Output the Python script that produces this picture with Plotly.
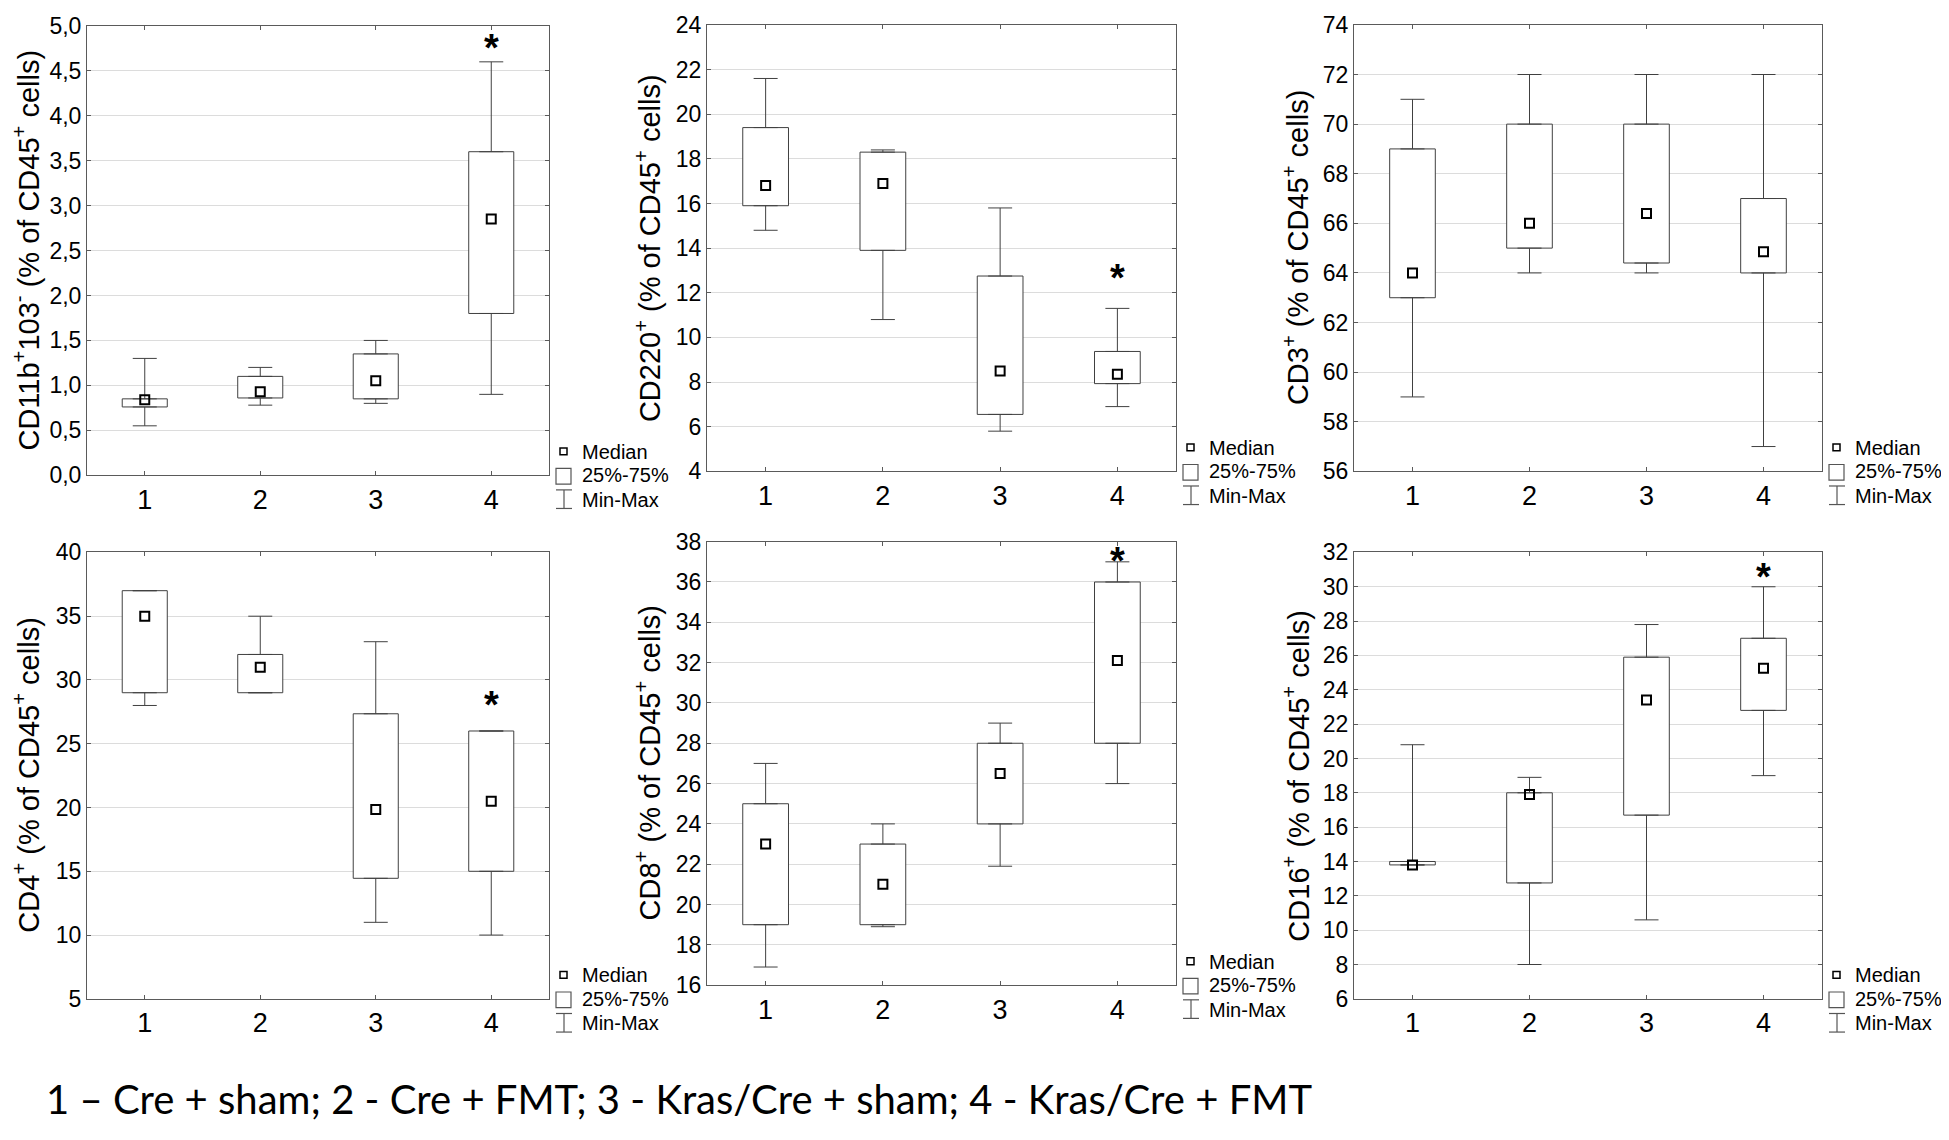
import numpy as np
import plotly.graph_objects as go
from plotly.subplots import make_subplots

# groups on the x axis
categories = [1, 2, 3, 4]
category_labels = ['1', '2', '3', '4']

# one entry per panel (row-wise): min, 25%, median, 75%, max
box_min = [
    [0.55, 0.78, 0.80, 0.90],
    [14.8, 10.8, 5.8, 6.9],
    [59, 64, 64, 57],
    [28, 29, 11, 10],
    [16.9, 18.9, 21.9, 26],
    [13.8, 8, 10.6, 19],
]
box_q1 = [
    [0.76, 0.86, 0.85, 1.80],
    [15.9, 13.9, 6.55, 7.93],
    [63, 65, 64.4, 64],
    [29, 29, 14.45, 15],
    [19, 19, 24, 28],
    [13.8, 12.75, 16.7, 22.8],
]
box_median = [
    [0.84, 0.93, 1.05, 2.85],
    [16.8, 16.9, 8.5, 8.35],
    [64, 66, 66.4, 64.85],
    [35, 31, 19.85, 20.5],
    [23, 21, 26.5, 32.1],
    [13.8, 17.9, 23.4, 25.25],
]
box_q3 = [
    [0.85, 1.10, 1.35, 3.60],
    [19.4, 18.3, 12.75, 9.37],
    [69, 70, 70, 67],
    [37, 32, 27.35, 26],
    [25, 23, 28, 36],
    [14.0, 18, 25.9, 27],
]
box_max = [
    [1.30, 1.20, 1.50, 4.60],
    [21.6, 18.4, 15.8, 11.3],
    [71, 72, 72, 72],
    [37, 35, 33, 26],
    [27, 24, 29, 37],
    [20.8, 18.9, 27.8, 30],
]

y_titles = [
    'CD11b<sup>+</sup>103<sup>-</sup> (% of CD45<sup>+</sup> cells)',
    'CD220<sup>+</sup> (% of CD45<sup>+</sup> cells)',
    'CD3<sup>+</sup> (% of CD45<sup>+</sup> cells)',
    'CD4<sup>+</sup> (% of CD45<sup>+</sup> cells)',
    'CD8<sup>+</sup> (% of CD45<sup>+</sup> cells)',
    'CD16<sup>+</sup> (% of CD45<sup>+</sup> cells)',
]
y_ranges = [[0, 5], [4, 24], [56, 74], [5, 40], [16, 38], [6, 32]]
y_steps = [0.5, 2, 2, 5, 2, 2]
y_formats = ['.1f', 'd', 'd', 'd', 'd', 'd']

# significance stars: (group, y) per panel, None = no star
star_points = [(4, 4.79), (4, 12.8), None, (4, 28.3), (4, 37.2), (4, 30.75)]

legend_items = ['Median', '25%-75%', 'Min-Max']
caption = '1 – Cre + sham; 2 - Cre + FMT; 3 - Kras/Cre + sham; 4 - Kras/Cre + FMT'

# the page body keeps its default 8px margin, so the figure is drawn inside it
OFF = 8
W, H = 1949 - 2 * OFF, 1140 - 2 * OFF
# plot areas in screen pixels: left, right, top, bottom
panel_px = [
    (87, 549, 13, 473), (707, 1176, 12, 469), (1354, 1822, 12, 469),
    (87, 549, 552, 1009), (707, 1176, 541, 995), (1354, 1822, 552, 1009),
]
title_offset = [61, 59, 58, 61, 59, 58]

LINE = '#404040'
FRAME = '#5a5a5a'
GRID = '#dcdcdc'
FONT = 'Liberation Sans, Arial, sans-serif'


def px_x(x):
    return (x - OFF) / W


def px_y(y):
    return 1 - (y - OFF) / H


fig = make_subplots(rows=2, cols=3)

shapes = []
annotations = []

for i in range(6):
    row, col = i // 3 + 1, i % 3 + 1
    lo = np.array(box_min[i])
    q1 = np.array(box_q1[i])
    med = np.array(box_median[i])
    q3 = np.array(box_q3[i])
    hi = np.array(box_max[i])

    # 25%-75% boxes
    fig.add_trace(go.Bar(
        x=categories, y=q3 - q1, base=q1, width=0.39,
        marker={'color': 'white', 'line': {'color': LINE, 'width': 1}},
        hoverinfo='skip', showlegend=False
    ), row=row, col=col)

    # upper whiskers
    fig.add_trace(go.Scatter(
        x=categories, y=q3, mode='markers',
        marker={'size': 1, 'color': 'rgba(0,0,0,0)'},
        error_y={'type': 'data', 'symmetric': False, 'array': hi - q3,
                 'arrayminus': np.zeros(4), 'width': 12, 'thickness': 1,
                 'color': LINE},
        hoverinfo='skip', showlegend=False
    ), row=row, col=col)

    # lower whiskers
    fig.add_trace(go.Scatter(
        x=categories, y=q1, mode='markers',
        marker={'size': 1, 'color': 'rgba(0,0,0,0)'},
        error_y={'type': 'data', 'symmetric': False, 'array': np.zeros(4),
                 'arrayminus': q1 - lo, 'width': 12, 'thickness': 1,
                 'color': LINE},
        hoverinfo='skip', showlegend=False
    ), row=row, col=col)

    # medians
    fig.add_trace(go.Scatter(
        x=categories, y=med, mode='markers',
        marker={'symbol': 'square-open', 'size': 9, 'color': 'black',
                'line': {'width': 2}},
        showlegend=False
    ), row=row, col=col)

    left, right, top, bottom = panel_px[i]
    suffix = '' if i == 0 else str(i + 1)

    fig.layout['xaxis' + suffix].update(
        domain=[px_x(left), px_x(right)], range=[0.5, 4.5],
        tickvals=categories, ticktext=category_labels,
        ticks='inside', ticklen=4, tickcolor=FRAME, mirror='ticks',
        showline=True, linecolor=FRAME, linewidth=1, showgrid=False,
        zeroline=False, tickfont={'family': FONT, 'size': 27, 'color': 'black'}
    )
    fig.layout['yaxis' + suffix].update(
        domain=[px_y(bottom), px_y(top)], range=y_ranges[i],
        tick0=y_ranges[i][0], dtick=y_steps[i], tickformat=y_formats[i],
        ticks='inside', ticklen=4, tickcolor=FRAME, mirror='ticks',
        showline=True, linecolor=FRAME, linewidth=1,
        showgrid=True, gridcolor=GRID, gridwidth=1, zeroline=False,
        tickfont={'family': FONT, 'size': 23, 'color': 'black'}
    )

    # y axis title
    annotations.append(dict(
        x=px_x(left - title_offset[i]), y=px_y((top + bottom) / 2),
        xref='paper', yref='paper', text=y_titles[i], textangle=-90,
        showarrow=False, xanchor='center', yanchor='middle',
        font={'family': FONT, 'size': 29, 'color': 'black'}
    ))

    # significance star
    if star_points[i] is not None:
        annotations.append(dict(
            x=star_points[i][0], y=star_points[i][1],
            xref='x' + suffix, yref='y' + suffix, text='<b>*</b>',
            showarrow=False, xanchor='center', yanchor='middle', yshift=-3,
            font={'family': FONT, 'size': 38, 'color': 'black'}
        ))

    # legend: icons
    shapes.append(dict(
        type='rect', xref='paper', yref='paper',
        x0=px_x(right + 11), x1=px_x(right + 18),
        y0=px_y(bottom - 28), y1=px_y(bottom - 21),
        line={'color': 'black', 'width': 1.5}, fillcolor='white'
    ))
    shapes.append(dict(
        type='rect', xref='paper', yref='paper',
        x0=px_x(right + 7), x1=px_x(right + 22),
        y0=px_y(bottom - 7), y1=px_y(bottom + 9),
        line={'color': '#555555', 'width': 1.2}, fillcolor='white'
    ))
    shapes.append(dict(
        type='line', xref='paper', yref='paper',
        x0=px_x(right + 15), x1=px_x(right + 15),
        y0=px_y(bottom + 15), y1=px_y(bottom + 34),
        line={'color': '#555555', 'width': 1.2}
    ))
    for yy in (bottom + 15, bottom + 34):
        shapes.append(dict(
            type='line', xref='paper', yref='paper',
            x0=px_x(right + 7), x1=px_x(right + 23),
            y0=px_y(yy), y1=px_y(yy),
            line={'color': '#555555', 'width': 1.2}
        ))

    # legend: labels
    for label, dy in zip(legend_items, (-24, 0, 25)):
        annotations.append(dict(
            x=px_x(right + 31), y=px_y(bottom + dy),
            xref='paper', yref='paper', text=label, showarrow=False,
            xanchor='left', yanchor='middle',
            font={'family': FONT, 'size': 20, 'color': 'black'}
        ))

# group key under the panels
annotations.append(dict(
    x=px_x(44), y=px_y(1112), xref='paper', yref='paper', text=caption,
    showarrow=False, xanchor='left', yanchor='middle',
    font={'family': 'Lato, Open Sans, sans-serif', 'size': 40, 'color': 'black'}
))

fig.update_layout(
    width=W, height=H,
    margin={'l': 0, 'r': 0, 't': 0, 'b': 0},
    paper_bgcolor='white', plot_bgcolor='white',
    separators=',.',
    showlegend=False,
    shapes=shapes,
    annotations=annotations
)

fig.write_html('out.html')
